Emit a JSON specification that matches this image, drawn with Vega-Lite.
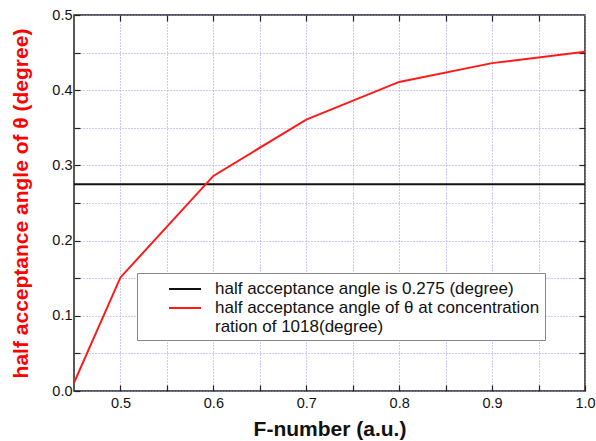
{
  "$schema": "https://vega.github.io/schema/vega-lite/v6.json",
  "width": 511,
  "height": 376,
  "autosize": {"type": "none"},
  "padding": {"left": 74, "top": 15, "right": 11, "bottom": 50},
  "background": "white",
  "config": {
    "font": "Liberation Sans",
    "view": {"stroke": "#222222", "strokeWidth": 1.5},
    "axis": {
      "domain": false,
      "tickColor": "#222222",
      "tickWidth": 1.2,
      "tickSize": -6,
      "gridColor": "#9999ee",
      "gridDash": [1, 2],
      "gridWidth": 1,
      "gridOpacity": 1,
      "labelFont": "Liberation Sans",
      "labelFontSize": 14.5,
      "labelColor": "#111111",
      "titleFont": "Liberation Sans"
    }
  },
  "data": {
    "values": [
      {"series": "half acceptance angle is 0.275 (degree)", "fnumber": 0.45, "angle": 0.275},
      {"series": "half acceptance angle is 0.275 (degree)", "fnumber": 1.0, "angle": 0.275},
      {"series": "half acceptance angle of θ at concentration", "fnumber": 0.45, "angle": 0.011},
      {"series": "half acceptance angle of θ at concentration", "fnumber": 0.5, "angle": 0.151},
      {"series": "half acceptance angle of θ at concentration", "fnumber": 0.6, "angle": 0.286},
      {"series": "half acceptance angle of θ at concentration", "fnumber": 0.7, "angle": 0.361},
      {"series": "half acceptance angle of θ at concentration", "fnumber": 0.8, "angle": 0.411},
      {"series": "half acceptance angle of θ at concentration", "fnumber": 0.9, "angle": 0.436},
      {"series": "half acceptance angle of θ at concentration", "fnumber": 1.0, "angle": 0.451}
    ]
  },
  "layer": [
    {
      "mark": {"type": "line", "strokeWidth": 2, "clip": true},
      "encoding": {
        "x": {
          "field": "fnumber",
          "type": "quantitative",
          "scale": {"domain": [0.45, 1.0], "nice": false, "zero": false},
          "axis": {
            "orient": "bottom",
            "title": "F-number (a.u.)",
            "titleFontSize": 21,
            "titleFontWeight": "bold",
            "titleColor": "#111111",
            "titleBaseline": "alphabetic",
            "titleX": 255.5,
            "titleY": 44,
            "values": [0.5, 0.55, 0.6, 0.65, 0.7, 0.75, 0.8, 0.85, 0.9, 0.95, 1.0],
            "labelExpr": "abs(datum.value*10 - round(datum.value*10)) < 0.001 ? format(datum.value, '.1f') : ''",
            "labelPadding": 11,
            "labelFlush": false,
            "labelOverlap": false,
            "grid": true
          }
        },
        "y": {
          "field": "angle",
          "type": "quantitative",
          "scale": {"domain": [0, 0.5], "nice": false},
          "axis": {
            "orient": "left",
            "title": "half acceptance angle of θ (degree)",
            "titleFontSize": 21,
            "titleFontWeight": "bold",
            "titleColor": "#ff0000",
            "titleAngle": 270,
            "titleAlign": "center",
            "titleBaseline": "alphabetic",
            "titleX": -47,
            "titleY": 188,
            "values": [0, 0.05, 0.1, 0.15, 0.2, 0.25, 0.3, 0.35, 0.4, 0.45, 0.5],
            "labelExpr": "abs(datum.value*10 - round(datum.value*10)) < 0.001 ? format(datum.value, '.1f') : ''",
            "labelPadding": 8,
            "labelFlush": false,
            "labelOverlap": false,
            "grid": true
          }
        },
        "color": {
          "field": "series",
          "type": "nominal",
          "scale": {
            "domain": ["half acceptance angle is 0.275 (degree)", "half acceptance angle of θ at concentration", "ration of 1018(degree)"],
            "range": ["#111111", "#ff1a1a", "transparent"]
          },
          "legend": {
            "title": null,
            "orient": "none",
            "legendX": 63,
            "legendY": 258,
            "fillColor": "white",
            "strokeColor": "#888888",
            "padding": 5,
            "symbolType": "M-1.6,0H1.6",
            "symbolSize": 400,
            "symbolStrokeWidth": 2,
            "symbolOffset": 32,
            "labelOffset": 19,
            "labelFontSize": 17,
            "labelColor": "#111111",
            "labelLimit": 500,
            "rowPadding": 0
          }
        }
      }
    },
    {
      "mark": {"type": "line", "opacity": 0},
      "encoding": {
        "x": {
          "field": "fnumber",
          "type": "quantitative",
          "scale": {"domain": [0.45, 1.0], "nice": false, "zero": false},
          "axis": {
            "orient": "top",
            "title": null,
            "labels": false,
            "grid": false,
            "values": [0.5, 0.55, 0.6, 0.65, 0.7, 0.75, 0.8, 0.85, 0.9, 0.95]
          }
        },
        "y": {
          "field": "angle",
          "type": "quantitative",
          "scale": {"domain": [0, 0.5], "nice": false},
          "axis": {
            "orient": "right",
            "title": null,
            "labels": false,
            "grid": false,
            "values": [0.05, 0.1, 0.15, 0.2, 0.25, 0.3, 0.35, 0.4, 0.45]
          }
        }
      }
    }
  ],
  "resolve": {"axis": {"x": "independent", "y": "independent"}}
}
